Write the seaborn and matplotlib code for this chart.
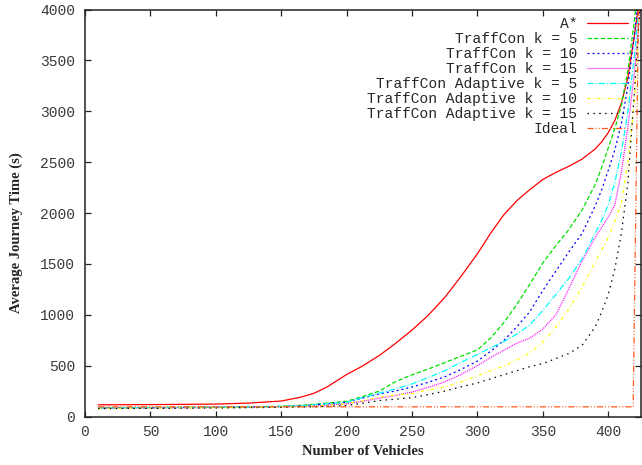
import numpy as np
import pandas as pd
import matplotlib
matplotlib.use("Agg")
import matplotlib.pyplot as plt
import seaborn as sns

# ---------------- data ----------------
vehicles = [10, 50, 100, 125, 150, 165, 175, 185, 200, 212, 225, 237, 250, 262,
            275, 287, 300, 310, 320, 330, 340, 350, 360, 370, 380, 390, 395,
            400, 405, 410, 415, 420, 425]

astar = [115, 117, 122, 132, 152, 190, 228, 290, 413, 495, 600, 715, 850, 990,
         1170, 1370, 1600, 1800, 1980, 2120, 2230, 2330, 2400, 2460, 2530, 2630,
         2700, 2790, 2910, 3080, 3330, 3750, 4200]
traffcon_k5 = [85, 88, 92, 95, 100, 110, 120, 132, 150, 195, 250, 340, 410, 465,
               530, 590, 655, 770, 920, 1100, 1300, 1510, 1680, 1840, 2030, 2280,
               2450, 2640, 2830, 3060, 3400, 3900, 4500]
traffcon_k10 = [85, 87, 90, 93, 98, 105, 115, 125, 141, 180, 223, 250, 290, 335,
                390, 460, 545, 640, 745, 880, 1030, 1240, 1430, 1620, 1800, 2070,
                2230, 2420, 2620, 2880, 3250, 3750, 4400]
traffcon_k15 = [82, 85, 88, 91, 96, 100, 105, 112, 125, 150, 180, 205, 240, 285,
                340, 410, 500, 580, 650, 720, 770, 860, 1000, 1260, 1530, 1760,
                1860, 1960, 2080, 2400, 2850, 3380, 4100]
adaptive_k5 = [85, 87, 90, 93, 98, 105, 115, 125, 140, 185, 230, 270, 320, 380,
               450, 530, 610, 675, 735, 810, 900, 1043, 1200, 1360, 1550, 1800,
               1930, 2080, 2300, 2600, 3000, 3550, 4250]
adaptive_k10 = [80, 83, 86, 89, 94, 98, 102, 110, 125, 155, 190, 210, 225, 260,
                290, 340, 400, 450, 495, 555, 625, 730, 880, 1060, 1270, 1520,
                1640, 1760, 1920, 2100, 2500, 3100, 4300]
adaptive_k15 = [78, 80, 84, 87, 90, 93, 96, 100, 108, 130, 157, 170, 185, 215,
                250, 290, 330, 370, 410, 450, 490, 520, 570, 620, 700, 880, 1030,
                1200, 1450, 1800, 2300, 3200, 4200]
ideal_x = [10, 419, 423.5]
ideal_y = [95, 95, 4400]

labels = ["A*", "TraffCon k = 5", "TraffCon k = 10", "TraffCon k = 15",
          "TraffCon Adaptive k = 5", "TraffCon Adaptive k = 10",
          "TraffCon Adaptive k = 15", "Ideal"]
colors = ["#ff0000", "#00e000", "#0000ff", "#ff00ff", "#00ffff", "#ffff00",
          "#000000", "#ff5a1a"]
dash_specs = ["", (3.5, 1.8), (1.6, 2.4), (0.8, 0.8), (5, 1.6, 0.8, 1.6),
              (2.5, 2.4, 0.8, 2.4), (1.2, 3.5), (5, 1.6, 0.8, 1.6, 0.8, 1.6)]

series_vals = [astar, traffcon_k5, traffcon_k10, traffcon_k15,
               adaptive_k5, adaptive_k10, adaptive_k15]

frames = []
for name, vals in zip(labels[:-1], series_vals):
    frames.append(pd.DataFrame({"x": vehicles, "y": vals, "series": name}))
frames.append(pd.DataFrame({"x": ideal_x, "y": ideal_y, "series": labels[-1]}))
df = pd.concat(frames, ignore_index=True)

# ---------------- plot ----------------
sns.set_style("ticks")
plt.rcParams["font.family"] = ["Liberation Mono", "DejaVu Sans"]

fig = plt.figure(figsize=(6.42, 4.65), dpi=100)
ax = fig.add_axes([85 / 642, (465 - 416.5) / 465, (641 - 85) / 642, (416.5 - 9.5) / 465])

sns.lineplot(data=df, x="x", y="y", hue="series", style="series",
             hue_order=labels, style_order=labels,
             palette=dict(zip(labels, colors)),
             dashes=dict(zip(labels, dash_specs)),
             estimator=None, sort=False, linewidth=0.9, ax=ax, legend=True)

ax.set_xlim(0, 425)
ax.set_ylim(0, 4000)
ax.set_xticks(np.arange(0, 401, 50))
ax.set_yticks(np.arange(0, 4001, 500))

for s in ax.spines.values():
    s.set_visible(True)
    s.set_linewidth(1.1)
    s.set_color("#222222")

ax.tick_params(direction="in", length=4, width=0.9, top=True, right=True,
               colors="#222222", labelcolor="#3a3a3a", labelsize=10.5)
ax.tick_params(axis="x", pad=6)
ax.tick_params(axis="y", pad=7)

ax.set_xlabel("Number of Vehicles", family="Liberation Serif",
              fontweight="bold", fontsize=10.5)
ax.set_ylabel("Average Journey Time (s)", family="Liberation Serif",
              fontweight="bold", fontsize=10.5)
ax.xaxis.set_label_coords(0.5, -0.071)
ax.yaxis.set_label_coords(-0.1115, 0.4527)

handles, labs = ax.get_legend_handles_labels()
leg = ax.legend(handles, labs, loc="upper right", bbox_to_anchor=(0.9766, 0.982),
                frameon=False, markerfirst=False,
                handlelength=2.8, handletextpad=0.68, labelspacing=0.07,
                borderpad=0, borderaxespad=0,
                prop={"family": "Liberation Mono", "size": 10.5})
for line in leg.get_lines():
    line.set_linewidth(0.9)

fig.savefig("out.png", dpi=100)
